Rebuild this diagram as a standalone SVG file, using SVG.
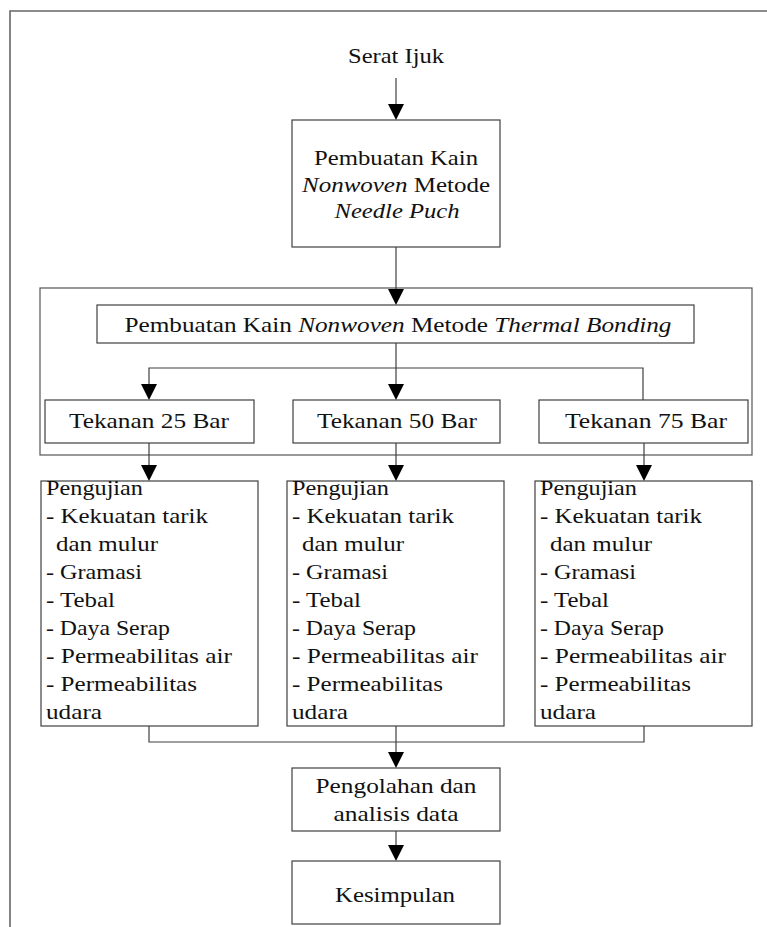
<svg xmlns="http://www.w3.org/2000/svg" width="767" height="927" viewBox="0 0 767 927">
<style>
.box{fill:#fff;stroke:#404040;stroke-width:1.2}
.frame{fill:none;stroke:#666;stroke-width:1.6}
.ln{fill:none;stroke:#404040;stroke-width:1.2}
text{font-family:"Liberation Serif","Times New Roman",serif;font-size:22px;fill:#111}
.c{text-anchor:middle}
.i{font-style:italic}
</style>
<rect width="767" height="927" fill="#fff"/>
<path class="frame" d="M10,927 V11 H767"/>
<g id="group-thermal"><rect class="box" x="40" y="288" width="712" height="167" style="stroke:#555"/></g>

<g id="connectors">
<line class="ln" x1="396" y1="78" x2="396" y2="104"/>
<polygon points="388,104 404,104 396,120"/>
<line class="ln" x1="396" y1="247" x2="396" y2="289"/>
<polygon points="388,289 404,289 396,305"/>
<path class="ln" d="M396,343 V368 M149,384 V368 H643 V400 M396,368 V384"/>
<polygon points="141,384 157,384 149,400"/>
<polygon points="388,384 404,384 396,400"/>
<path class="ln" d="M149,443 V465 M396,443 V465 M644,443 V465"/>
<polygon points="141,465 157,465 149,481"/>
<polygon points="388,465 404,465 396,481"/>
<polygon points="636,465 652,465 644,481"/>
<path class="ln" d="M149,726 V742 H644 V726 M396,726 V752"/>
<polygon points="388,752 404,752 396,768"/>
<line class="ln" x1="396" y1="831" x2="396" y2="845"/>
<polygon points="388,845 404,845 396,861"/>
</g>

<g id="serat-ijuk"><text class="c" x="396" y="63" textLength="96" lengthAdjust="spacingAndGlyphs">Serat Ijuk</text></g>

<g id="needle-punch">
<rect class="box" x="292" y="120" width="208" height="127"/>
<text class="c" x="396" y="165" textLength="164" lengthAdjust="spacingAndGlyphs">Pembuatan Kain</text>
<text class="c" x="396" y="192" textLength="188" lengthAdjust="spacingAndGlyphs"><tspan class="i">Nonwoven</tspan> Metode</text>
<text class="c i" x="397" y="218" textLength="125" lengthAdjust="spacingAndGlyphs">Needle Puch</text>
</g>

<g id="thermal-bonding">
<rect class="box" x="97" y="305" width="597" height="38"/>
<text class="c" x="398" y="332" textLength="547" lengthAdjust="spacingAndGlyphs">Pembuatan Kain <tspan class="i">Nonwoven</tspan> Metode <tspan class="i">Thermal Bonding</tspan></text>
</g>

<g id="tekanan-25"><rect class="box" x="45" y="400" width="209" height="43"/><text class="c" x="149" y="428" textLength="160" lengthAdjust="spacingAndGlyphs">Tekanan 25 Bar</text></g>
<g id="tekanan-50"><rect class="box" x="293" y="400" width="207" height="43"/><text class="c" x="397" y="428" textLength="160" lengthAdjust="spacingAndGlyphs">Tekanan 50 Bar</text></g>
<g id="tekanan-75"><rect class="box" x="539" y="400" width="209" height="43"/><text class="c" x="646" y="428" textLength="162" lengthAdjust="spacingAndGlyphs">Tekanan 75 Bar</text></g>

<g id="pengujian-25">
<rect class="box" x="41" y="481" width="217" height="245"/>
<text x="46" y="495" textLength="97" lengthAdjust="spacingAndGlyphs">Pengujian</text>
<text x="46" y="523" textLength="162" lengthAdjust="spacingAndGlyphs">- Kekuatan tarik</text>
<text x="56" y="551" textLength="102" lengthAdjust="spacingAndGlyphs">dan mulur</text>
<text x="46" y="579" textLength="96" lengthAdjust="spacingAndGlyphs">- Gramasi</text>
<text x="46" y="607" textLength="69" lengthAdjust="spacingAndGlyphs">- Tebal</text>
<text x="46" y="635" textLength="124" lengthAdjust="spacingAndGlyphs">- Daya Serap</text>
<text x="46" y="663" textLength="186" lengthAdjust="spacingAndGlyphs">- Permeabilitas air</text>
<text x="46" y="691" textLength="151" lengthAdjust="spacingAndGlyphs">- Permeabilitas</text>
<text x="46" y="719" textLength="56" lengthAdjust="spacingAndGlyphs">udara</text>
</g>
<g id="pengujian-50">
<rect class="box" x="287" y="481" width="217" height="245"/>
<text x="292" y="495" textLength="97" lengthAdjust="spacingAndGlyphs">Pengujian</text>
<text x="292" y="523" textLength="162" lengthAdjust="spacingAndGlyphs">- Kekuatan tarik</text>
<text x="302" y="551" textLength="102" lengthAdjust="spacingAndGlyphs">dan mulur</text>
<text x="292" y="579" textLength="96" lengthAdjust="spacingAndGlyphs">- Gramasi</text>
<text x="292" y="607" textLength="69" lengthAdjust="spacingAndGlyphs">- Tebal</text>
<text x="292" y="635" textLength="124" lengthAdjust="spacingAndGlyphs">- Daya Serap</text>
<text x="292" y="663" textLength="186" lengthAdjust="spacingAndGlyphs">- Permeabilitas air</text>
<text x="292" y="691" textLength="151" lengthAdjust="spacingAndGlyphs">- Permeabilitas</text>
<text x="292" y="719" textLength="56" lengthAdjust="spacingAndGlyphs">udara</text>
</g>
<g id="pengujian-75">
<rect class="box" x="535" y="481" width="217" height="245"/>
<text x="540" y="495" textLength="97" lengthAdjust="spacingAndGlyphs">Pengujian</text>
<text x="540" y="523" textLength="162" lengthAdjust="spacingAndGlyphs">- Kekuatan tarik</text>
<text x="550" y="551" textLength="102" lengthAdjust="spacingAndGlyphs">dan mulur</text>
<text x="540" y="579" textLength="96" lengthAdjust="spacingAndGlyphs">- Gramasi</text>
<text x="540" y="607" textLength="69" lengthAdjust="spacingAndGlyphs">- Tebal</text>
<text x="540" y="635" textLength="124" lengthAdjust="spacingAndGlyphs">- Daya Serap</text>
<text x="540" y="663" textLength="186" lengthAdjust="spacingAndGlyphs">- Permeabilitas air</text>
<text x="540" y="691" textLength="151" lengthAdjust="spacingAndGlyphs">- Permeabilitas</text>
<text x="540" y="719" textLength="56" lengthAdjust="spacingAndGlyphs">udara</text>
</g>

<g id="pengolahan">
<rect class="box" x="292" y="768" width="208" height="63"/>
<text class="c" x="396" y="793" textLength="161" lengthAdjust="spacingAndGlyphs">Pengolahan dan</text>
<text class="c" x="396" y="821" textLength="125" lengthAdjust="spacingAndGlyphs">analisis data</text>
</g>
<g id="kesimpulan">
<rect class="box" x="292" y="861" width="208" height="63"/>
<text class="c" x="395" y="902" textLength="120" lengthAdjust="spacingAndGlyphs">Kesimpulan</text>
</g>
</svg>
